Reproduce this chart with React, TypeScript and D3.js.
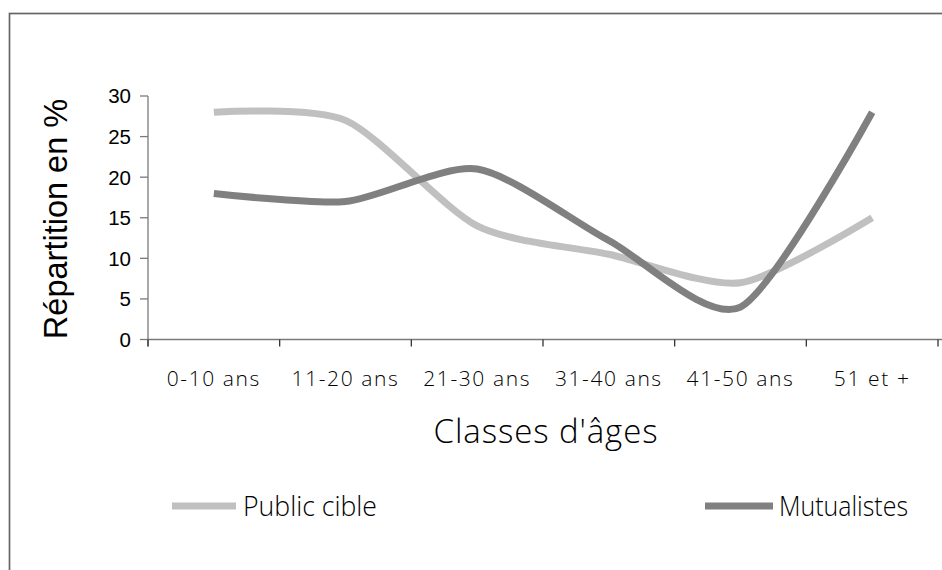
import React from "react";
import * as d3 from "d3";

// Age brackets on the horizontal axis
const categories = ["0-10 ans", "11-20 ans", "21-30 ans", "31-40 ans", "41-50 ans", "51 et +"];
// Share of each bracket, in percent
const publicCible = [28, 27, 14, 10.5, 7, 15];
const mutualistes = [18, 17, 21, 12.2, 4, 28];
const yTicks = [0, 5, 10, 15, 20, 25, 30];

const seriesNames = ["Public cible", "Mutualistes"];
const seriesColors = ["#c0c0c0", "#808080"];

const W = 942;
const H = 570;
const plot = { left: 148, right: 938, top: 96, bottom: 339.5 };

export default function App() {
  const x = d3
    .scaleBand<string>()
    .domain(categories)
    .range([plot.left, plot.right])
    .paddingInner(0)
    .paddingOuter(0);
  const y = d3.scaleLinear().domain([0, 30]).range([plot.bottom, plot.top]);

  // smoothed line through the category centres
  const line = d3
    .line<number>()
    .x((_, i) => (x(categories[i]) as number) + x.bandwidth() / 2)
    .y((d) => y(d))
    .curve(d3.curveCardinal.tension(0.25));

  const series = [publicCible, mutualistes];
  const boundaries = [...categories.map((c) => x(c) as number), plot.right];

  const axisColor = "#7a7a7a";
  const labelFont = "'Open Sans', sans-serif";

  return (
    <svg
      width={W}
      height={H}
      style={{ position: "absolute", left: 0, top: 0, background: "#fff" }}
    >
      {/* chart frame */}
      <rect x={9.5} y={13.5} width={960} height={600} fill="none" stroke="#666" strokeWidth={1.7} />

      {/* y axis */}
      <line x1={plot.left} x2={plot.left} y1={y(30)} y2={plot.bottom + 7} stroke={axisColor} strokeWidth={1.3} />
      {yTicks.map((t) => (
        <g key={t}>
          <line x1={plot.left - 8} x2={plot.left} y1={y(t)} y2={y(t)} stroke={axisColor} strokeWidth={1.3} />
          <text
            x={131}
            y={y(t)}
            dy="0.36em"
            textAnchor="end"
            fontFamily="'Liberation Sans', Arial, sans-serif"
            fontSize={20.5}
            fill="#000"
          >
            {t}
          </text>
        </g>
      ))}

      {/* x axis */}
      <line x1={plot.left} x2={plot.right + 4} y1={plot.bottom} y2={plot.bottom} stroke={axisColor} strokeWidth={1.3} />
      {boundaries.map((b, i) => (
        <line key={i} x1={b} x2={b} y1={plot.bottom} y2={plot.bottom + 7} stroke="#333" strokeWidth={1.3} />
      ))}
      {categories.map((c) => (
        <text
          key={c}
          x={(x(c) as number) + x.bandwidth() / 2}
          y={386}
          textAnchor="middle"
          fontFamily={labelFont}
          fontWeight={300}
          fontSize={21}
          letterSpacing={1.6}
          fill="#000"
        >
          {c}
        </text>
      ))}

      {/* axis titles */}
      <text
        transform={`translate(67, 219) rotate(-90)`}
        textAnchor="middle"
        fontFamily="'Liberation Sans', Arial, sans-serif"
        fontSize={32.5}
        fill="#000"
      >
        Répartition en %
      </text>
      <text
        x={546}
        y={443}
        textAnchor="middle"
        fontFamily={labelFont}
        fontWeight={300}
        fontSize={33}
        letterSpacing={0.9}
        fill="#000"
      >
        Classes d'âges
      </text>

      {/* series */}
      {series.map((s, i) => (
        <path
          key={seriesNames[i]}
          d={line(s) ?? ""}
          fill="none"
          stroke={seriesColors[i]}
          strokeWidth={7}
          strokeLinejoin="round"
        />
      ))}

      {/* legend */}
      {[
        { x0: 172, x1: 236, tx: 243 },
        { x0: 705, x1: 773, tx: 779 },
      ].map((l, i) => (
        <g key={seriesNames[i]}>
          <line x1={l.x0} x2={l.x1} y1={506} y2={506} stroke={seriesColors[i]} strokeWidth={7} />
          <text
            x={l.tx}
            y={516}
            fontFamily={labelFont}
            fontWeight={300}
            fontSize={27}
            fill="#000"
            textLength={i === 0 ? 134 : 129}
            lengthAdjust="spacingAndGlyphs"
          >
            {seriesNames[i]}
          </text>
        </g>
      ))}
    </svg>
  );
}
